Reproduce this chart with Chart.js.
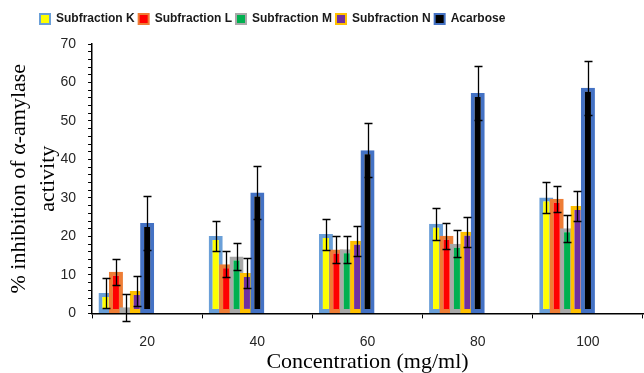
<!DOCTYPE html>
<html lang="en">
<head>
<meta charset="UTF-8">
<title>Inhibition of α-amylase activity</title>
<script src="https://cdn.jsdelivr.net/npm/chart.js@4.4.2/dist/chart.umd.min.js"></script>
<style>
  html, body { margin: 0; padding: 0; background: #fff; }
  .wrap { width: 644px; height: 373px; }
</style>
</head>
<body>
<div class="wrap"><canvas id="amylaseChart"></canvas></div>
<script>
  const concentrations = ['20', '40', '60', '80', '100'];
  const subK = [5.3, 20.1, 20.6, 23.3, 30.1];
  const subL = [10.8, 12.8, 16.6, 20.2, 29.8];
  const subM = [1.6, 14.8, 16.7, 18.1, 22.1];
  const subN = [5.8, 10.5, 18.9, 21.2, 27.9];
  const acarbose = [23.5, 31.4, 42.4, 57.3, 58.6];
  // standard deviations (error bars)
  const errK = [4.0, 4.0, 4.0, 4.1, 4.0];
  const errL = [3.4, 3.4, 3.4, 3.4, 3.4];
  const errM = [3.5, 3.5, 3.5, 3.5, 3.5];
  const errN = [3.9, 3.9, 3.9, 3.9, 3.9];
  const errA = [7.0, 7.0, 7.0, 7.0, 7.0];
  const yMax = 70;

  function series(label, data, errors, fill, edge) {
    return {
      label, data, errors,
      backgroundColor: fill,
      borderColor: edge,
      borderWidth: 4,
      borderSkipped: false,
      barPercentage: 1.35,
      categoryPercentage: 0.85
    };
  }

  // the original excel chart keeps 4 empty slots after Acarbose in each group
  function spacer() {
    return { label: '', data: [], barPercentage: 1.35, categoryPercentage: 0.85 };
  }

  // draw bars left to right (later series on top) and add the error bars
  const barsAndErrors = {
    id: 'barsAndErrors',
    beforeDatasetsDraw(chart) {
      const ctx = chart.ctx;
      const y = chart.scales.y;
      const metas = chart.getSortedVisibleDatasetMetas();
      metas.forEach(m => m.controller.draw());
      ctx.save();
      ctx.strokeStyle = '#000';
      ctx.lineWidth = 1.3;
      metas.forEach(m => {
        const ds = chart.data.datasets[m.index];
        if (!ds.errors) return;
        m.data.forEach((bar, i) => {
          const v = ds.data[i];
          const top = Math.round(y.getPixelForValue(v + ds.errors[i])) + 0.5;
          const bot = Math.round(y.getPixelForValue(v - ds.errors[i])) + 0.5;
          const x = Math.round(bar.x) + 0.5;
          ctx.beginPath();
          ctx.moveTo(x, top); ctx.lineTo(x, bot);
          ctx.moveTo(x - 4, top); ctx.lineTo(x + 4, top);
          ctx.moveTo(x - 4, bot); ctx.lineTo(x + 4, bot);
          ctx.stroke();
        });
      });
      ctx.restore();
      return false;
    }
  };

  const legendPlace = {
    id: 'legendPlace',
    beforeInit(chart) {
      const fit = chart.legend.fit;
      chart.legend.fit = function () {
        fit.call(this);
        this.height += 9;
      };
    },
    afterLayout(chart) {
      chart.legend.left = 36;
    }
  };

  new Chart(document.getElementById('amylaseChart'), {
    type: 'bar',
    data: {
      labels: concentrations,
      datasets: [
        series('Subfraction K', subK, errK, '#FFFF00', '#6A9FD8'),
        series('Subfraction L', subL, errL, '#FF0000', '#EE7D35'),
        series('Subfraction M', subM, errM, '#00B050', '#A9A9A9'),
        series('Subfraction N', subN, errN, '#7030A0', '#FFC000'),
        series('Acarbose', acarbose, errA, '#000000', '#4472C4'),
        spacer(), spacer(), spacer(), spacer()
      ]
    },
    options: {
      responsive: true,
      maintainAspectRatio: false,
      animation: false,
      layout: { padding: { top: 9, left: 0, right: 1, bottom: 0 } },
      plugins: {
        legend: {
          position: 'top',
          align: 'start',
          labels: {
            boxWidth: 10,
            boxHeight: 10,
            padding: 4,
            color: '#1a1a1a',
            font: { family: 'Liberation Sans', size: 12, weight: 'bold' },
            filter: item => item.text !== '',
            generateLabels(chart) {
              const items = Chart.defaults.plugins.legend.labels.generateLabels(chart);
              items.forEach(it => { it.lineWidth = 2; });
              return items;
            }
          }
        },
        tooltip: { enabled: false }
      },
      scales: {
        x: {
          offset: true,
          grid: { display: true, offset: true, drawOnChartArea: false, tickLength: 5, color: '#000' },
          border: { color: '#000', width: 1.5 },
          ticks: { padding: 15, color: '#262626', font: { family: 'Liberation Sans', size: 14 } },
          title: {
            display: true,
            text: 'Concentration (mg/ml)',
            color: '#000',
            padding: { top: -16.6, bottom: -2 },
            font: { family: 'Liberation Serif', size: 22 }
          }
        },
        y: {
          min: 0,
          max: yMax,
          grid: { display: true, drawOnChartArea: false, tickLength: 4, color: '#000' },
          border: { color: '#000', width: 1.5 },
          ticks: {
            stepSize: 2,
            autoSkip: false,
            padding: 12,
            color: '#262626',
            font: { family: 'Liberation Sans', size: 14 },
            callback: v => (v % 10 === 0 ? v : '')
          },
          title: {
            display: true,
            text: ['% inhibition of α-amylase', 'activity'],
            color: '#000',
            padding: { top: 5, bottom: -14.6 },
            font: { family: 'Liberation Serif', size: 22, lineHeight: 1.32 }
          }
        }
      }
    },
    plugins: [barsAndErrors, legendPlace]
  });
</script>
</body>
</html>
